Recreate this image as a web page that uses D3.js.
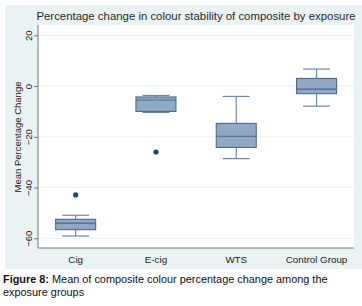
<!DOCTYPE html>
<html>
<head>
<meta charset="utf-8">
<script src="https://cdn.jsdelivr.net/npm/d3@7"></script>
<style>
  body { margin: 0; background: #fff; font-family: "Liberation Sans", Arial, sans-serif; }
  svg { display: block; }
</style>
</head>
<body>
<div id="chart"></div>
<script>
// box plot values
const categories = ["Cig", "E-cig", "WTS", "Control Group"];
const lowerWhisker = [-59.1, -10.4, -28.6, -7.9];
const q1 = [-56.6, -10.0, -24.2, -3.0];
const median = [-54.0, -5.5, -19.8, -1.2];
const q3 = [-52.5, -4.3, -14.7, 3.0];
const upperWhisker = [-50.9, -3.7, -4.1, 6.7];
const outliers = [[-42.9], [-26.0], [], []];
const yTicks = [-60, -40, -20, 0, 20];

const W = 362, H = 306;
const svg = d3.select("#chart").append("svg")
  .attr("width", W).attr("height", H);

// outer graph region (light blue)
svg.append("rect").attr("x", 5).attr("y", 5).attr("width", 357).attr("height", 264)
  .attr("fill", "#eaf2f3");
// plot region
svg.append("rect").attr("x", 38).attr("y", 25).attr("width", 316).attr("height", 223)
  .attr("fill", "#fff");

const y = d3.scaleLinear().domain([-60, 20]).range([238.3, 35.3]);
const x = d3.scaleBand().domain(categories).range([35.5, 356.7]);
const boxW = 40, capW = 27;

// gridlines
svg.append("g").selectAll("line").data(yTicks).join("line")
  .attr("x1", 38).attr("x2", 354)
  .attr("y1", d => y(d)).attr("y2", d => y(d))
  .attr("stroke", "#eaf2f3").attr("stroke-width", 1);

// y axis
const yAxis = svg.append("g").attr("transform", "translate(38,0)")
  .call(d3.axisLeft(y).tickValues(yTicks).tickSize(4).tickPadding(6));
yAxis.select(".domain").attr("d", "M0,25V248").attr("stroke", "#777");
yAxis.selectAll(".tick line").attr("stroke", "#777");
yAxis.selectAll(".tick text")
  .attr("transform", "rotate(-90)")
  .attr("x", 0).attr("dy", 0).attr("y", -6)
  .attr("text-anchor", "middle")
  .attr("font-size", 9.5).attr("fill", "#222")
  .attr("font-family", "Liberation Sans, Arial, sans-serif");

// x axis
const xAxis = svg.append("g").attr("transform", "translate(0,248)")
  .call(d3.axisBottom(x).tickSize(0).tickPadding(8));
xAxis.select(".domain").attr("d", "M38,0H354").attr("stroke", "#777");
xAxis.selectAll(".tick text")
  .attr("font-size", 9.8).attr("fill", "#222")
  .attr("font-family", "Liberation Sans, Arial, sans-serif");

const stroke = "#4a6a8e";
const g = svg.append("g");
categories.forEach((c, i) => {
  const cx = x(c) + x.bandwidth() / 2;
  // whiskers
  g.append("line").attr("x1", cx).attr("x2", cx)
    .attr("y1", y(upperWhisker[i])).attr("y2", y(q3[i]))
    .attr("stroke", "#6e88a6").attr("stroke-width", 1.2);
  g.append("line").attr("x1", cx).attr("x2", cx)
    .attr("y1", y(q1[i])).attr("y2", y(lowerWhisker[i]))
    .attr("stroke", "#6e88a6").attr("stroke-width", 1.2);
  [upperWhisker[i], lowerWhisker[i]].forEach(v => {
    g.append("line").attr("x1", cx - capW / 2).attr("x2", cx + capW / 2)
      .attr("y1", y(v)).attr("y2", y(v))
      .attr("stroke", "#6e88a6").attr("stroke-width", 1.2);
  });
  // box
  g.append("rect").attr("x", cx - boxW / 2).attr("width", boxW)
    .attr("y", y(q3[i])).attr("height", y(q1[i]) - y(q3[i]))
    .attr("fill", "#90a8c1").attr("stroke", stroke).attr("stroke-width", 1.1);
  g.append("line").attr("x1", cx - boxW / 2).attr("x2", cx + boxW / 2)
    .attr("y1", y(median[i])).attr("y2", y(median[i]))
    .attr("stroke", stroke).attr("stroke-width", 1.1);
  outliers[i].forEach(v => {
    g.append("circle").attr("cx", cx).attr("cy", y(v)).attr("r", 2.6)
      .attr("fill", "#1a476f");
  });
});

// title
svg.append("text").attr("x", 196).attr("y", 20).attr("text-anchor", "middle")
  .attr("font-size", 11.4).attr("fill", "#2a2a2a")
  .text("Percentage change in colour stability of composite by exposure");

// y label
svg.append("text").attr("transform", "translate(21,137) rotate(-90)")
  .attr("text-anchor", "middle").attr("font-size", 9.5).attr("fill", "#222")
  .text("Mean Percentage Change");

// caption
const cap = svg.append("text").attr("x", 3).attr("y", 283).attr("font-size", 10.9).attr("fill", "#111");
cap.append("tspan").attr("font-weight", "bold").text("Figure 8:");
cap.append("tspan").text(" Mean of composite colour percentage change among the");
svg.append("text").attr("x", 3).attr("y", 296).attr("font-size", 10.9).attr("fill", "#111")
  .text("exposure groups");
</script>
</body>
</html>
